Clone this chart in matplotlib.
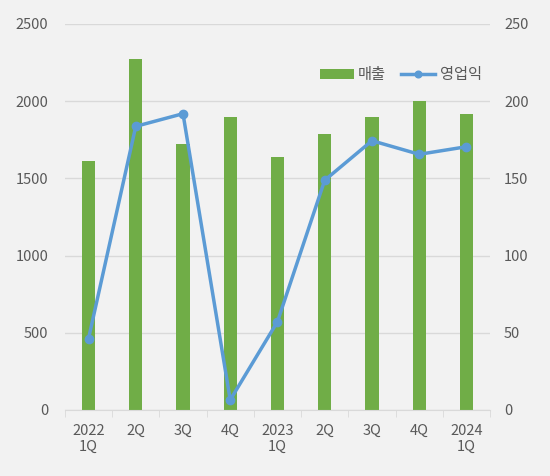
import numpy as np
import matplotlib.pyplot as plt

plt.rcParams['font.family'] = ['Noto Sans CJK KR', 'DejaVu Sans']

quarters = ["2022\n1Q", "2Q", "3Q", "4Q", "2023\n1Q", "2Q", "3Q", "4Q", "2024\n1Q"]
sales = [1611, 2273, 1721, 1898, 1637, 1790, 1896, 2001, 1917]
op_profit = [46.2, 183.7, 191.9, 6.5, 57.2, 148.8, 174.4, 165.6, 170.5]

bg = "#f2f2f2"
text_c = "#595959"
grid_c = "#d9d9d9"

fig = plt.figure(figsize=(5.5, 4.76), dpi=100, facecolor=bg)
ax = fig.add_axes([0.118, 0.1387, 0.773, 0.8109], facecolor=bg)
ax2 = ax.twinx()

x = np.arange(len(quarters))
bars = ax.bar(x, sales, width=0.28, color="#70ad47", zorder=2, label="매출")
line, = ax2.plot(x, op_profit, color="#5b9bd5", lw=2.5, marker="o", ms=6, zorder=3, label="영업익")

ax.set_xlim(-0.5, len(quarters) - 0.5)
ax.set_ylim(0, 2500)
ax2.set_ylim(0, 250)
ax.set_yticks(np.arange(0, 2501, 500))
ax2.set_yticks(np.arange(0, 251, 50))
ax.yaxis.grid(True, color=grid_c, lw=1, zorder=0)
ax.set_axisbelow(True)

ax.set_xticks(x)
ax.set_xticklabels(quarters)
ax.set_xticks(np.arange(-0.5, len(quarters)), minor=True)
ax.tick_params(axis="x", which="major", length=0, pad=10, labelsize=10.5, labelcolor=text_c)
ax.tick_params(axis="x", which="minor", length=5, color=grid_c)
ax.tick_params(axis="y", length=0, pad=12, labelsize=10.5, labelcolor=text_c)
ax2.tick_params(axis="y", length=0, pad=10, labelsize=10.5, labelcolor=text_c)

for a in (ax, ax2):
    for s in a.spines.values():
        s.set_visible(False)
ax.spines["bottom"].set_visible(True)
ax.spines["bottom"].set_color(grid_c)

ax.legend([bars, line], ["매출", "영업익"], loc="center", bbox_to_anchor=(0.79, 0.868),
          ncol=2, frameon=False, fontsize=11, labelcolor=text_c, markerscale=0.8,
          handlelength=2.2, handletextpad=0.3, columnspacing=1.0)

fig.savefig("out.png", dpi=100, facecolor=bg)
